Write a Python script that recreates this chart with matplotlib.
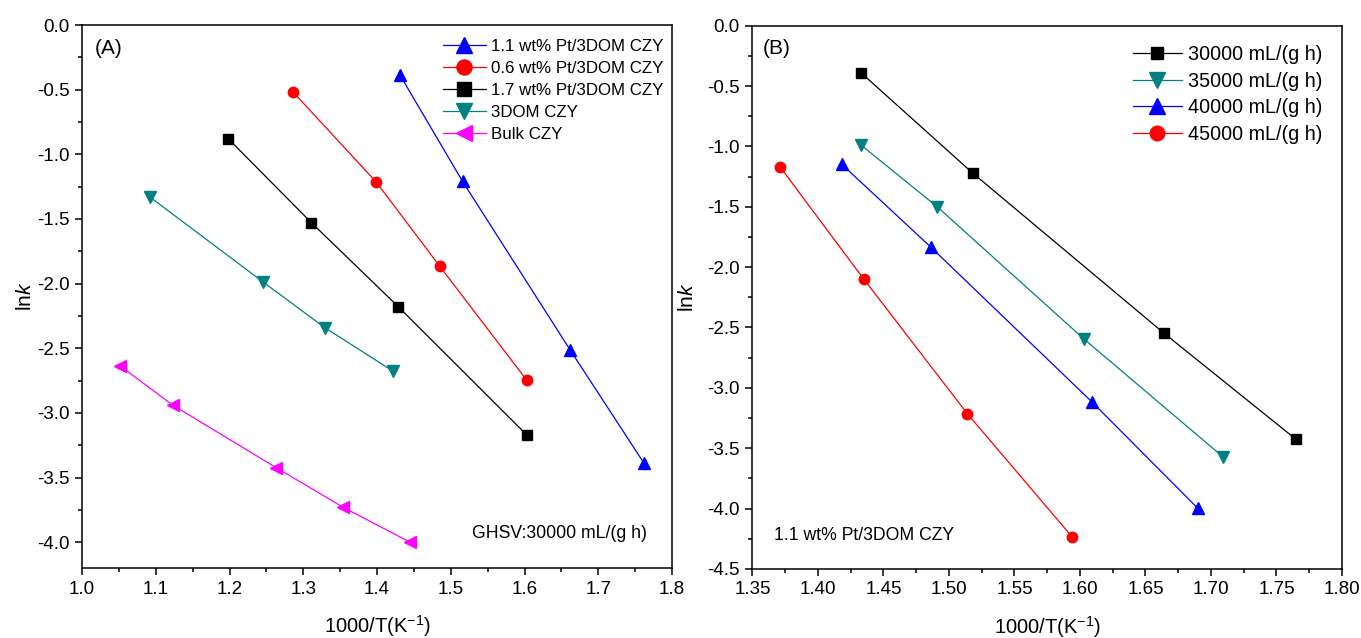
import numpy as np
import matplotlib
matplotlib.use('Agg')
import matplotlib.pyplot as plt
from matplotlib.ticker import MultipleLocator, FormatStrFormatter

plt.rcParams.update({
    'font.family': ['Liberation Sans', 'DejaVu Sans'],
    'mathtext.fontset': 'custom',
    'mathtext.rm': 'Liberation Sans',
    'mathtext.it': 'Liberation Sans:italic',
    'axes.unicode_minus': False,
    'axes.linewidth': 1.1,
})

# ----- panel A data (GHSV 30000 mL/(g h)) -----
pt11_x = [1.431, 1.516, 1.662, 1.762]
pt11_y = [-0.386, -1.21, -2.515, -3.39]
pt06_x = [1.286, 1.399, 1.485, 1.603]
pt06_y = [-0.517, -1.215, -1.866, -2.747]
pt17_x = [1.198, 1.311, 1.429, 1.603]
pt17_y = [-0.878, -1.529, -2.18, -3.171]
dom_x = [1.092, 1.246, 1.329, 1.421]
dom_y = [-1.33, -1.99, -2.34, -2.675]
bulk_x = [1.052, 1.123, 1.263, 1.354, 1.444]
bulk_y = [-2.638, -2.94, -3.423, -3.73, -3.998]

# ----- panel B data (1.1 wt% Pt/3DOM CZY) -----
g30_x = [1.433, 1.518, 1.664, 1.765]
g30_y = [-0.392, -1.22, -2.546, -3.427]
g35_x = [1.433, 1.491, 1.603, 1.709]
g35_y = [-0.99, -1.50, -2.595, -3.57]
g40_x = [1.418, 1.486, 1.609, 1.690]
g40_y = [-1.147, -1.833, -3.115, -3.998]
g45_x = [1.371, 1.435, 1.514, 1.594]
g45_y = [-1.169, -2.100, -3.214, -4.234]

labels_a = ['1.1 wt% Pt/3DOM CZY', '0.6 wt% Pt/3DOM CZY', '1.7 wt% Pt/3DOM CZY',
            '3DOM CZY', 'Bulk CZY']
labels_b = ['30000 mL/(g h)', '35000 mL/(g h)', '40000 mL/(g h)', '45000 mL/(g h)']

teal = '#008080'

fig = plt.figure(figsize=(13.61, 6.38), dpi=100)
ax1 = fig.add_axes([0.0603, 0.1097, 0.4335, 0.851])
ax2 = fig.add_axes([0.5529, 0.1082, 0.4331, 0.8516])


def style_axis(ax, ylab_x):
    ax.tick_params(which='major', direction='out', length=5, width=1.1, labelsize=13.5,
                   pad=4, top=False, right=False)
    ax.tick_params(which='minor', direction='out', length=3, width=1.1,
                   top=False, right=False)
    ax.set_xlabel('1000/T(K$^{-1}$)', fontsize=14.5)
    ax.set_ylabel(r'ln$\mathit{k}$', fontsize=15)
    ax.xaxis.set_label_coords(0.5, -0.083)
    ax.yaxis.set_label_coords(ylab_x, 0.5)
    ax.yaxis.set_major_locator(MultipleLocator(0.5))
    ax.yaxis.set_minor_locator(MultipleLocator(0.25))
    ax.yaxis.set_major_formatter(FormatStrFormatter('%.1f'))


# ----- (A) -----
ax1.plot(pt11_x, pt11_y, '-^', color='blue', lw=0.9, ms=8, label=labels_a[0])
ax1.plot(pt06_x, pt06_y, '-o', color='red', lw=0.9, ms=7.5, label=labels_a[1])
ax1.plot(pt17_x, pt17_y, '-s', color='black', lw=0.9, ms=6.5, label=labels_a[2])
ax1.plot(dom_x, dom_y, '-v', color=teal, lw=0.9, ms=8, label=labels_a[3])
ax1.plot(bulk_x, bulk_y, '-<', color='magenta', lw=0.9, ms=8, label=labels_a[4])
ax1.set_xlim(1.0, 1.8)
ax1.set_ylim(-4.2, 0.0)
ax1.xaxis.set_major_locator(MultipleLocator(0.1))
ax1.xaxis.set_minor_locator(MultipleLocator(0.05))
ax1.xaxis.set_major_formatter(FormatStrFormatter('%.1f'))
style_axis(ax1, -0.08)
ax1.legend(loc='upper left', bbox_to_anchor=(0.612, 0.975), frameon=False,
           fontsize=12.2, handlelength=2.5, handletextpad=0.3, labelspacing=0.42,
           borderpad=0, borderaxespad=0, markerscale=1.45)
ax1.text(0.022, 0.975, '(A)', transform=ax1.transAxes, fontsize=15,
         ha='left', va='top')
ax1.text(0.958, 0.064, 'GHSV:30000 mL/(g h)', transform=ax1.transAxes,
         fontsize=12.7, ha='right', va='center')

# ----- (B) -----
ax2.plot(g30_x, g30_y, '-s', color='black', lw=0.9, ms=6.5, label=labels_b[0])
ax2.plot(g35_x, g35_y, '-v', color=teal, lw=0.9, ms=8, label=labels_b[1])
ax2.plot(g40_x, g40_y, '-^', color='blue', lw=0.9, ms=8, label=labels_b[2])
ax2.plot(g45_x, g45_y, '-o', color='red', lw=0.9, ms=7.5, label=labels_b[3])
ax2.set_xlim(1.35, 1.80)
ax2.set_ylim(-4.5, 0.0)
ax2.xaxis.set_major_locator(MultipleLocator(0.05))
ax2.xaxis.set_minor_locator(MultipleLocator(0.025))
ax2.xaxis.set_major_formatter(FormatStrFormatter('%.2f'))
style_axis(ax2, -0.094)
ax2.legend(loc='upper left', bbox_to_anchor=(0.645, 0.964), frameon=False,
           fontsize=14.2, handlelength=2.5, handletextpad=0.3, labelspacing=0.38,
           borderpad=0, borderaxespad=0, markerscale=1.4)
ax2.text(0.018, 0.975, '(B)', transform=ax2.transAxes, fontsize=15,
         ha='left', va='top')
ax2.text(0.036, 0.061, '1.1 wt% Pt/3DOM CZY', transform=ax2.transAxes,
         fontsize=12.7, ha='left', va='center')

fig.savefig('out.png', dpi=100)
